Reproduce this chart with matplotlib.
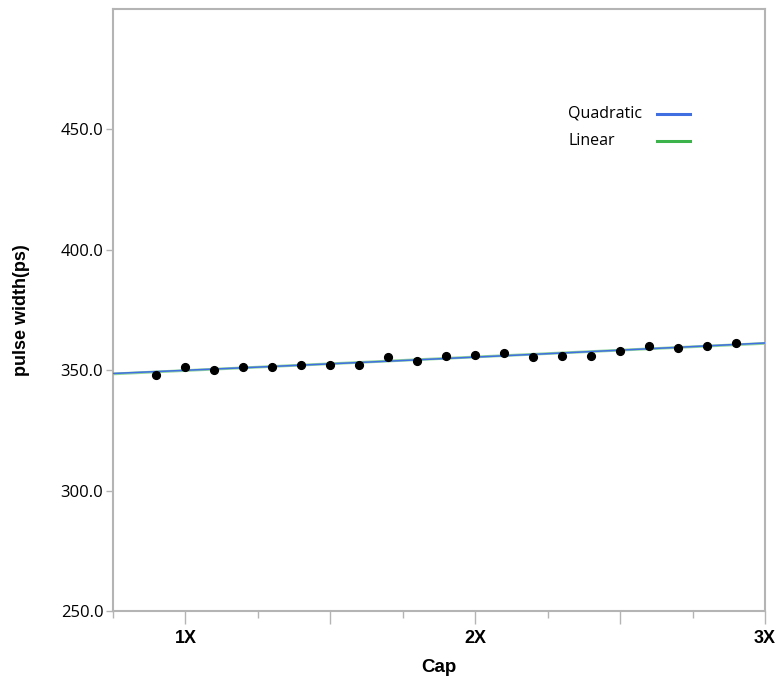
import matplotlib.pyplot as plt
import numpy as np
from matplotlib.ticker import FixedLocator, FormatStrFormatter

# Cap multiplier vs measured pulse width
cap = [0.9, 1.0, 1.1, 1.2, 1.3, 1.4, 1.5, 1.6, 1.7, 1.8, 1.9,
       2.0, 2.1, 2.2, 2.3, 2.4, 2.5, 2.6, 2.7, 2.8, 2.9]
pulse_width = [348.2, 351.4, 350.0, 351.4, 351.4, 352.1, 352.1, 352.1, 355.5, 353.9, 356.0,
               356.1, 357.2, 355.3, 356.0, 356.0, 358.0, 360.0, 359.3, 360.0, 361.4]
x_tick_pos = [1, 1.5, 2, 2.5, 3]
x_tick_labels = ['1X', '', '2X', '', '3X']
y_ticks = [250, 300, 350, 400, 450]

BLUE = '#3f6fe0'
GREEN = '#3cb44b'
GRAY = '#b4b4b4'

fig = plt.figure(figsize=(7.76, 6.85), dpi=100)
ax = fig.add_axes([0.1456, 0.108, 0.8402, 0.879])

x = np.array(cap)
y = np.array(pulse_width)
xs = np.linspace(0.75, 3.0, 200)
lin = np.polyval(np.polyfit(x, y, 1), xs)
quad = np.polyval(np.polyfit(x, y, 2), xs)

ax.plot(xs, lin, color=GREEN, lw=2.0, alpha=0.55, zorder=2)
ax.plot(xs, quad, color=BLUE, lw=1.1, zorder=3)
ax.plot(x, y, 'o', color='black', ms=5.6, zorder=4)

ax.set_xlim(0.75, 3.0)
ax.set_ylim(250, 500)

ax.set_xticks(x_tick_pos, x_tick_labels)
ax.xaxis.set_minor_locator(FixedLocator([0.75, 1.25, 1.75, 2.25, 2.75]))
for lab in ax.get_xticklabels():
    lab.set_fontweight('bold')
    lab.set_fontfamily('Liberation Sans')
    lab.set_fontsize(13)
ax.tick_params(axis='x', which='major', length=9, width=1, color=GRAY, pad=5)
ax.tick_params(axis='x', which='minor', length=5, width=1, color=GRAY)

ax.set_yticks(y_ticks)
ax.yaxis.set_major_formatter(FormatStrFormatter('%.1f'))
ax.tick_params(axis='y', length=5, width=1, color=GRAY, labelsize=12, pad=2)
for lab in ax.get_yticklabels():
    lab.set_fontfamily('Open Sans')

for sp in ax.spines.values():
    sp.set_color(GRAY)
    sp.set_linewidth(1.5)

ax.set_xlabel('Cap', fontsize=13.5, fontweight='bold', family='Liberation Sans', labelpad=8)
ax.set_ylabel('pulse width(ps)', fontsize=13, fontweight='bold', family='Liberation Sans', labelpad=22)

# legend: label text on the left, colour swatch on the right
legend_items = [('Quadratic', BLUE, 0.8256), ('Linear', GREEN, 0.7807)]
for name, col, ypos in legend_items:
    ax.text(0.698, ypos, name, transform=ax.transAxes, ha='left', va='center',
            family='Open Sans', fontsize=11.5)
    ax.plot([0.835, 0.885], [ypos, ypos], transform=ax.transAxes, color=col, lw=2.2)

plt.savefig('out.png', dpi=100)
